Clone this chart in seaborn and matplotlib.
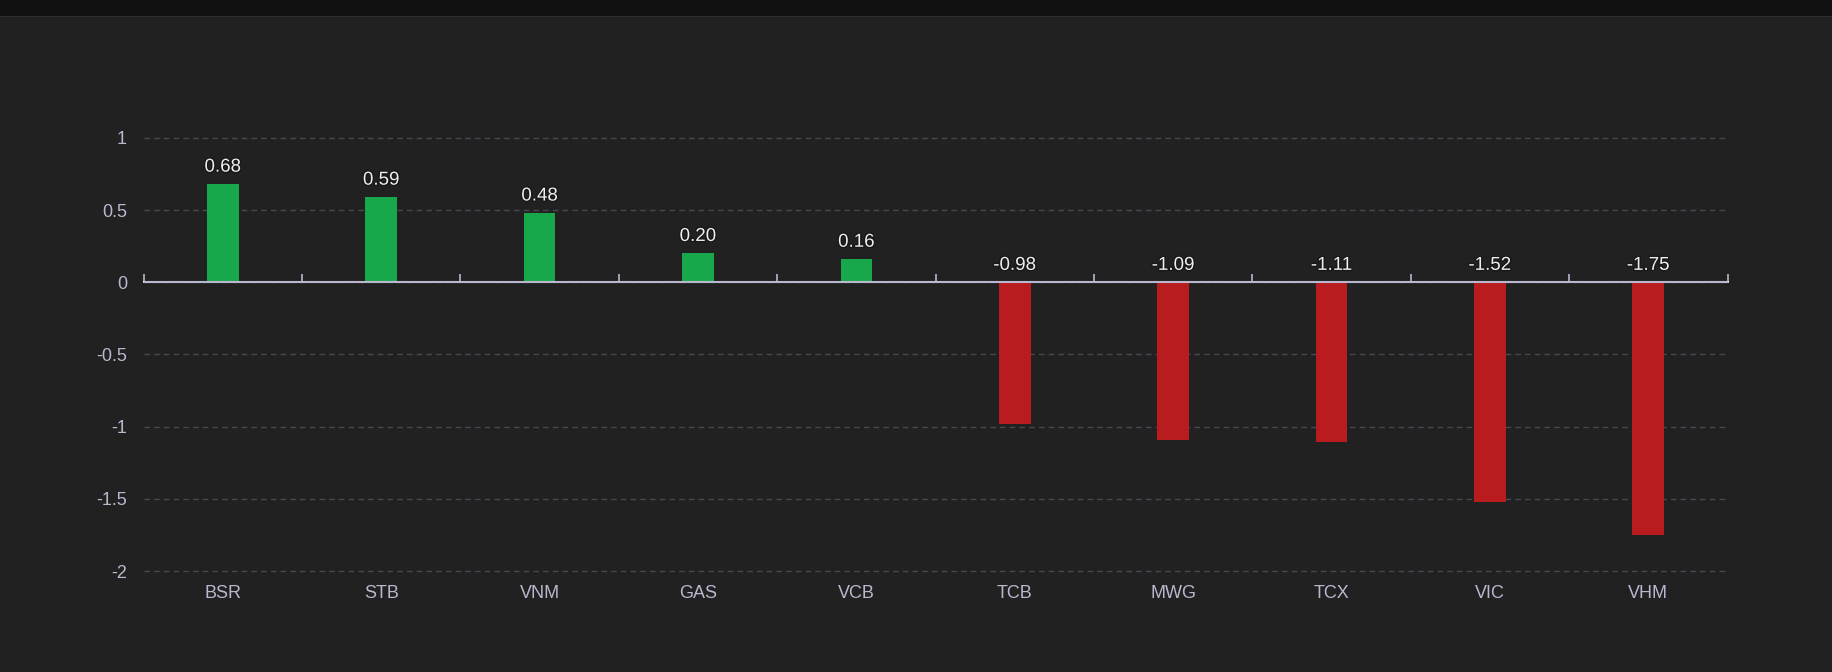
import pandas as pd
import numpy as np
import matplotlib.pyplot as plt
import matplotlib.patheffects as pe
from matplotlib.patches import Rectangle
import seaborn as sns

# Data
tickers = ['BSR', 'STB', 'VNM', 'GAS', 'VCB', 'TCB', 'MWG', 'TCX', 'VIC', 'VHM']
impact = [0.68, 0.59, 0.48, 0.20, 0.16, -0.98, -1.09, -1.11, -1.52, -1.75]

df = pd.DataFrame({'Ticker': tickers, 'Impact': impact})
df['Side'] = np.where(df['Impact'] >= 0, 'up', 'down')

BG = '#212121'
TXT = '#b9b8ce'
sns.set_theme(style='dark')
plt.rcParams['font.family'] = ['Liberation Sans', 'DejaVu Sans']

fig = plt.figure(figsize=(18.32, 6.72), dpi=100, facecolor=BG)
# top dark strip
fig.patches.append(Rectangle((0, 1 - 16 / 672), 1, 16 / 672, transform=fig.transFigure,
                             facecolor='#111111', edgecolor='none', zorder=0))
fig.patches.append(Rectangle((0, 1 - 17 / 672), 1, 1.2 / 672, transform=fig.transFigure,
                             facecolor='#2e2e2e', edgecolor='none', zorder=0))

ax = fig.add_axes([143.7 / 1832, 1 - 571 / 672, (1727.5 - 143.7) / 1832, (571 - 137.8) / 672])
ax.set_facecolor(BG)

sns.barplot(data=df, x='Ticker', y='Impact', hue='Side',
            palette={'up': '#19a74c', 'down': '#b81c1e'},
            width=0.2, dodge=False, legend=False, saturation=1,
            edgecolor='none', linewidth=0, ax=ax)

ax.set_ylim(-2, 1)
ax.set_xlim(-0.5, len(tickers) - 0.5)
ax.set_yticks([1, 0.5, 0, -0.5, -1, -1.5, -2])
ax.set_yticklabels(['1', '0.5', '0', '-0.5', '-1', '-1.5', '-2'])
ax.yaxis.grid(True, color='#484753', linestyle=(0, (4, 3)), linewidth=1, clip_on=False)
for gl in ax.yaxis.get_gridlines():
    gl.set_clip_on(False)
ax.xaxis.grid(False)
ax.set_axisbelow(True)
for s in ax.spines.values():
    s.set_visible(False)
ax.tick_params(axis='y', length=0, pad=12, labelcolor=TXT, labelsize=13)
ax.tick_params(axis='x', length=0, pad=10, labelcolor=TXT, labelsize=13)
ax.set_xlabel('')
ax.set_ylabel('')

# zero axis line with boundary ticks
sec = ax.secondary_xaxis(2 / 3)
sec.set_xticks(np.arange(-0.5, len(tickers), 1))
sec.set_xticklabels([])
sec.tick_params(axis='x', direction='out', length=6, width=1.2, color=TXT)
sec.spines['bottom'].set_visible(False)
ax.axhline(0, color=TXT, linewidth=1.5, zorder=5)

# value labels
for i, v in enumerate(impact):
    ax.annotate(f'{v:.2f}', xy=(i, max(v, 0)), xytext=(0, 6), textcoords='offset points',
                ha='center', va='bottom', fontsize=13.5, color='#eeeeee',
                path_effects=[pe.withStroke(linewidth=2, foreground='#181818')])

fig.savefig('out.png', dpi=100, facecolor=BG)
